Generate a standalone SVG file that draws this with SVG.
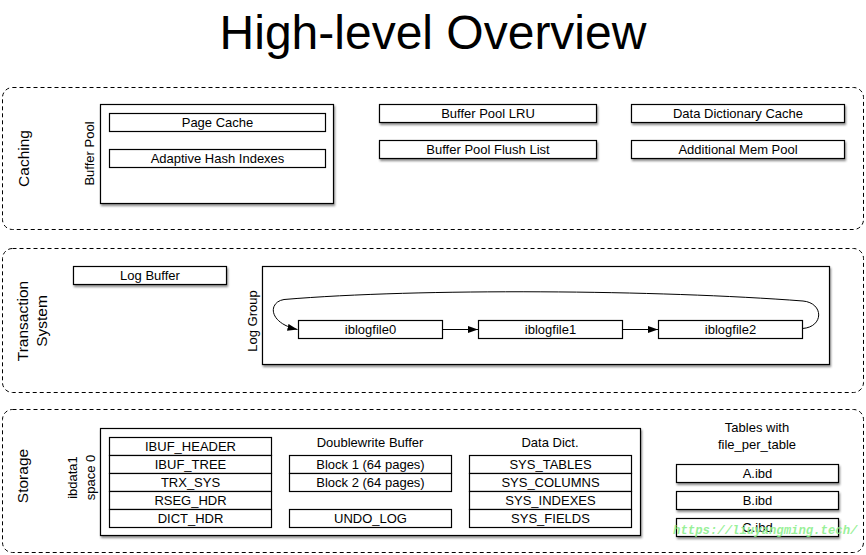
<svg xmlns="http://www.w3.org/2000/svg" width="866" height="555" viewBox="0 0 866 555">
<defs>
<filter id="sh" x="-10%" y="-30%" width="120%" height="180%">
<feDropShadow dx="1" dy="2" stdDeviation="1.2" flood-color="#000" flood-opacity="0.45"/>
</filter>
<marker id="arr" markerUnits="userSpaceOnUse" markerWidth="10" markerHeight="8" refX="10" refY="4" orient="auto">
<path d="M0,0.5 L10,4 L0,7.5 z" fill="#000"/>
</marker>
<style>
text{font-family:"Liberation Sans",Arial,Helvetica,sans-serif;fill:#000}
.sec{fill:none;stroke:#000;stroke-width:1;stroke-dasharray:4 3}
.box{fill:#fff;stroke:#000;stroke-width:1.2}
.shd{filter:url(#sh)}
.t{font-size:13px;text-anchor:middle}
.lbl{font-size:15.5px;text-anchor:middle}
.title{font-size:48px;text-anchor:middle}
.conn{fill:none;stroke:#000;stroke-width:1}
.wm{font-family:"Liberation Mono","DejaVu Sans Mono",monospace;font-size:12.3px;font-style:italic;font-weight:bold;fill:#86ee86;fill-opacity:0.85}
</style>
</defs>
<rect width="866" height="555" fill="#fff"/>
<text class="title" x="433" y="49">High-level Overview</text>

<g id="caching">
<rect class="sec" x="2.5" y="87.5" width="861" height="142" rx="10"/>
<text class="lbl" transform="translate(29,158.5) rotate(-90)">Caching</text>
</g>
<g id="buffer-pool">
<rect class="box shd" x="100.5" y="104.5" width="233" height="99"/>
<text class="t" transform="translate(94,153.5) rotate(-90)">Buffer Pool</text>
</g>
<g id="page-cache">
<rect class="box" x="109.5" y="113.5" width="216" height="18"/>
<text class="t" x="217.5" y="127.2">Page Cache</text>
</g>
<g id="adaptive-hash">
<rect class="box" x="109.5" y="149.5" width="216" height="18"/>
<text class="t" x="217.5" y="163.2">Adaptive Hash Indexes</text>
</g>
<g id="bp-lru">
<rect class="box shd" x="379.5" y="104.5" width="217" height="18"/>
<text class="t" x="488" y="118.2">Buffer Pool LRU</text>
</g>
<g id="bp-flush">
<rect class="box shd" x="379.5" y="140.5" width="217" height="18"/>
<text class="t" x="488" y="154.2">Buffer Pool Flush List</text>
</g>
<g id="dd-cache">
<rect class="box shd" x="631.5" y="104.5" width="213" height="18"/>
<text class="t" x="738" y="118.2">Data Dictionary Cache</text>
</g>
<g id="mem-pool">
<rect class="box shd" x="631.5" y="140.5" width="213" height="18"/>
<text class="t" x="738" y="154.2">Additional Mem Pool</text>
</g>

<g id="transaction">
<rect class="sec" x="2.5" y="248.5" width="861" height="144" rx="10"/>
<text class="lbl" transform="translate(28,321) rotate(-90)">Transaction</text>
<text class="lbl" transform="translate(46.5,321) rotate(-90)">System</text>
</g>
<g id="log-buffer">
<rect class="box shd" x="73.5" y="266.5" width="153" height="18"/>
<text class="t" x="150" y="280.2">Log Buffer</text>
</g>
<g id="log-group">
<rect class="box shd" x="262.5" y="266.5" width="567" height="98"/>
<text class="t" transform="translate(257,321) rotate(-90)">Log Group</text>
</g>
<g id="iblogfile0">
<rect class="box" x="298.5" y="320.5" width="144" height="18"/>
<text class="t" x="370.5" y="334.2">iblogfile0</text>
</g>
<g id="iblogfile1">
<rect class="box" x="478.5" y="320.5" width="144" height="18"/>
<text class="t" x="550.5" y="334.2">iblogfile1</text>
</g>
<g id="iblogfile2">
<rect class="box" x="658.5" y="320.5" width="144" height="18"/>
<text class="t" x="730.5" y="334.2">iblogfile2</text>
</g>

<g id="storage">
<rect class="sec" x="2.5" y="409.5" width="861" height="143" rx="10"/>
<text class="lbl" transform="translate(28,476) rotate(-90)">Storage</text>
</g>
<g id="ibdata1">
<rect class="box shd" x="100.5" y="428.5" width="540" height="107"/>
<text class="t" transform="translate(76.5,477.5) rotate(-90)">ibdata1</text>
<text class="t" transform="translate(94.5,477.5) rotate(-90)">space 0</text>
</g>
<g id="sys-pages">
<rect class="box" x="109.5" y="437.5" width="162" height="18"/>
<text class="t" x="190.5" y="451.2">IBUF_HEADER</text>
<rect class="box" x="109.5" y="455.5" width="162" height="18"/>
<text class="t" x="190.5" y="469.2">IBUF_TREE</text>
<rect class="box" x="109.5" y="473.5" width="162" height="18"/>
<text class="t" x="190.5" y="487.2">TRX_SYS</text>
<rect class="box" x="109.5" y="491.5" width="162" height="18"/>
<text class="t" x="190.5" y="505.2">RSEG_HDR</text>
<rect class="box" x="109.5" y="509.5" width="162" height="18"/>
<text class="t" x="190.5" y="523.2">DICT_HDR</text>
</g>
<g id="doublewrite">
<text class="t" x="370" y="447">Doublewrite Buffer</text>
<rect class="box" x="289.5" y="455.5" width="162" height="18"/>
<text class="t" x="370.5" y="469.2">Block 1 (64 pages)</text>
<rect class="box" x="289.5" y="473.5" width="162" height="18"/>
<text class="t" x="370.5" y="487.2">Block 2 (64 pages)</text>
</g>
<g id="undo-log">
<rect class="box" x="289.5" y="509.5" width="162" height="18"/>
<text class="t" x="370.5" y="523.2">UNDO_LOG</text>
</g>
<g id="data-dict">
<text class="t" x="550" y="447">Data Dict.</text>
<rect class="box" x="469.5" y="455.5" width="162" height="18"/>
<text class="t" x="550.5" y="469.2">SYS_TABLES</text>
<rect class="box" x="469.5" y="473.5" width="162" height="18"/>
<text class="t" x="550.5" y="487.2">SYS_COLUMNS</text>
<rect class="box" x="469.5" y="491.5" width="162" height="18"/>
<text class="t" x="550.5" y="505.2">SYS_INDEXES</text>
<rect class="box" x="469.5" y="509.5" width="162" height="18"/>
<text class="t" x="550.5" y="523.2">SYS_FIELDS</text>
</g>
<g id="file-per-table">
<text class="t" x="757" y="432">Tables with</text>
<text class="t" x="757" y="448.5">file_per_table</text>
</g>
<g id="a-ibd">
<rect class="box shd" x="676.5" y="464.5" width="162" height="18"/>
<text class="t" x="757.5" y="478.2">A.ibd</text>
</g>
<g id="b-ibd">
<rect class="box shd" x="676.5" y="491.5" width="162" height="18"/>
<text class="t" x="757.5" y="505.2">B.ibd</text>
</g>
<g id="c-ibd">
<rect class="box shd" x="676.5" y="518.5" width="162" height="18"/>
<text class="t" x="757.5" y="532.2">C.ibd</text>
</g>

<g id="connectors">
<line class="conn" x1="442.5" y1="329.5" x2="478" y2="329.5" marker-end="url(#arr)"/>
<line class="conn" x1="622.5" y1="329.5" x2="658" y2="329.5" marker-end="url(#arr)"/>
<path class="conn" d="M802.5,328.5 C824,327 824,303 803,301 C660,290 420,288 284,299.5 C268,302 268,323 297.5,329.5" marker-end="url(#arr)"/>
</g>

<text class="wm" x="673" y="533.5">https://liuyangming.tech/</text>
</svg>
